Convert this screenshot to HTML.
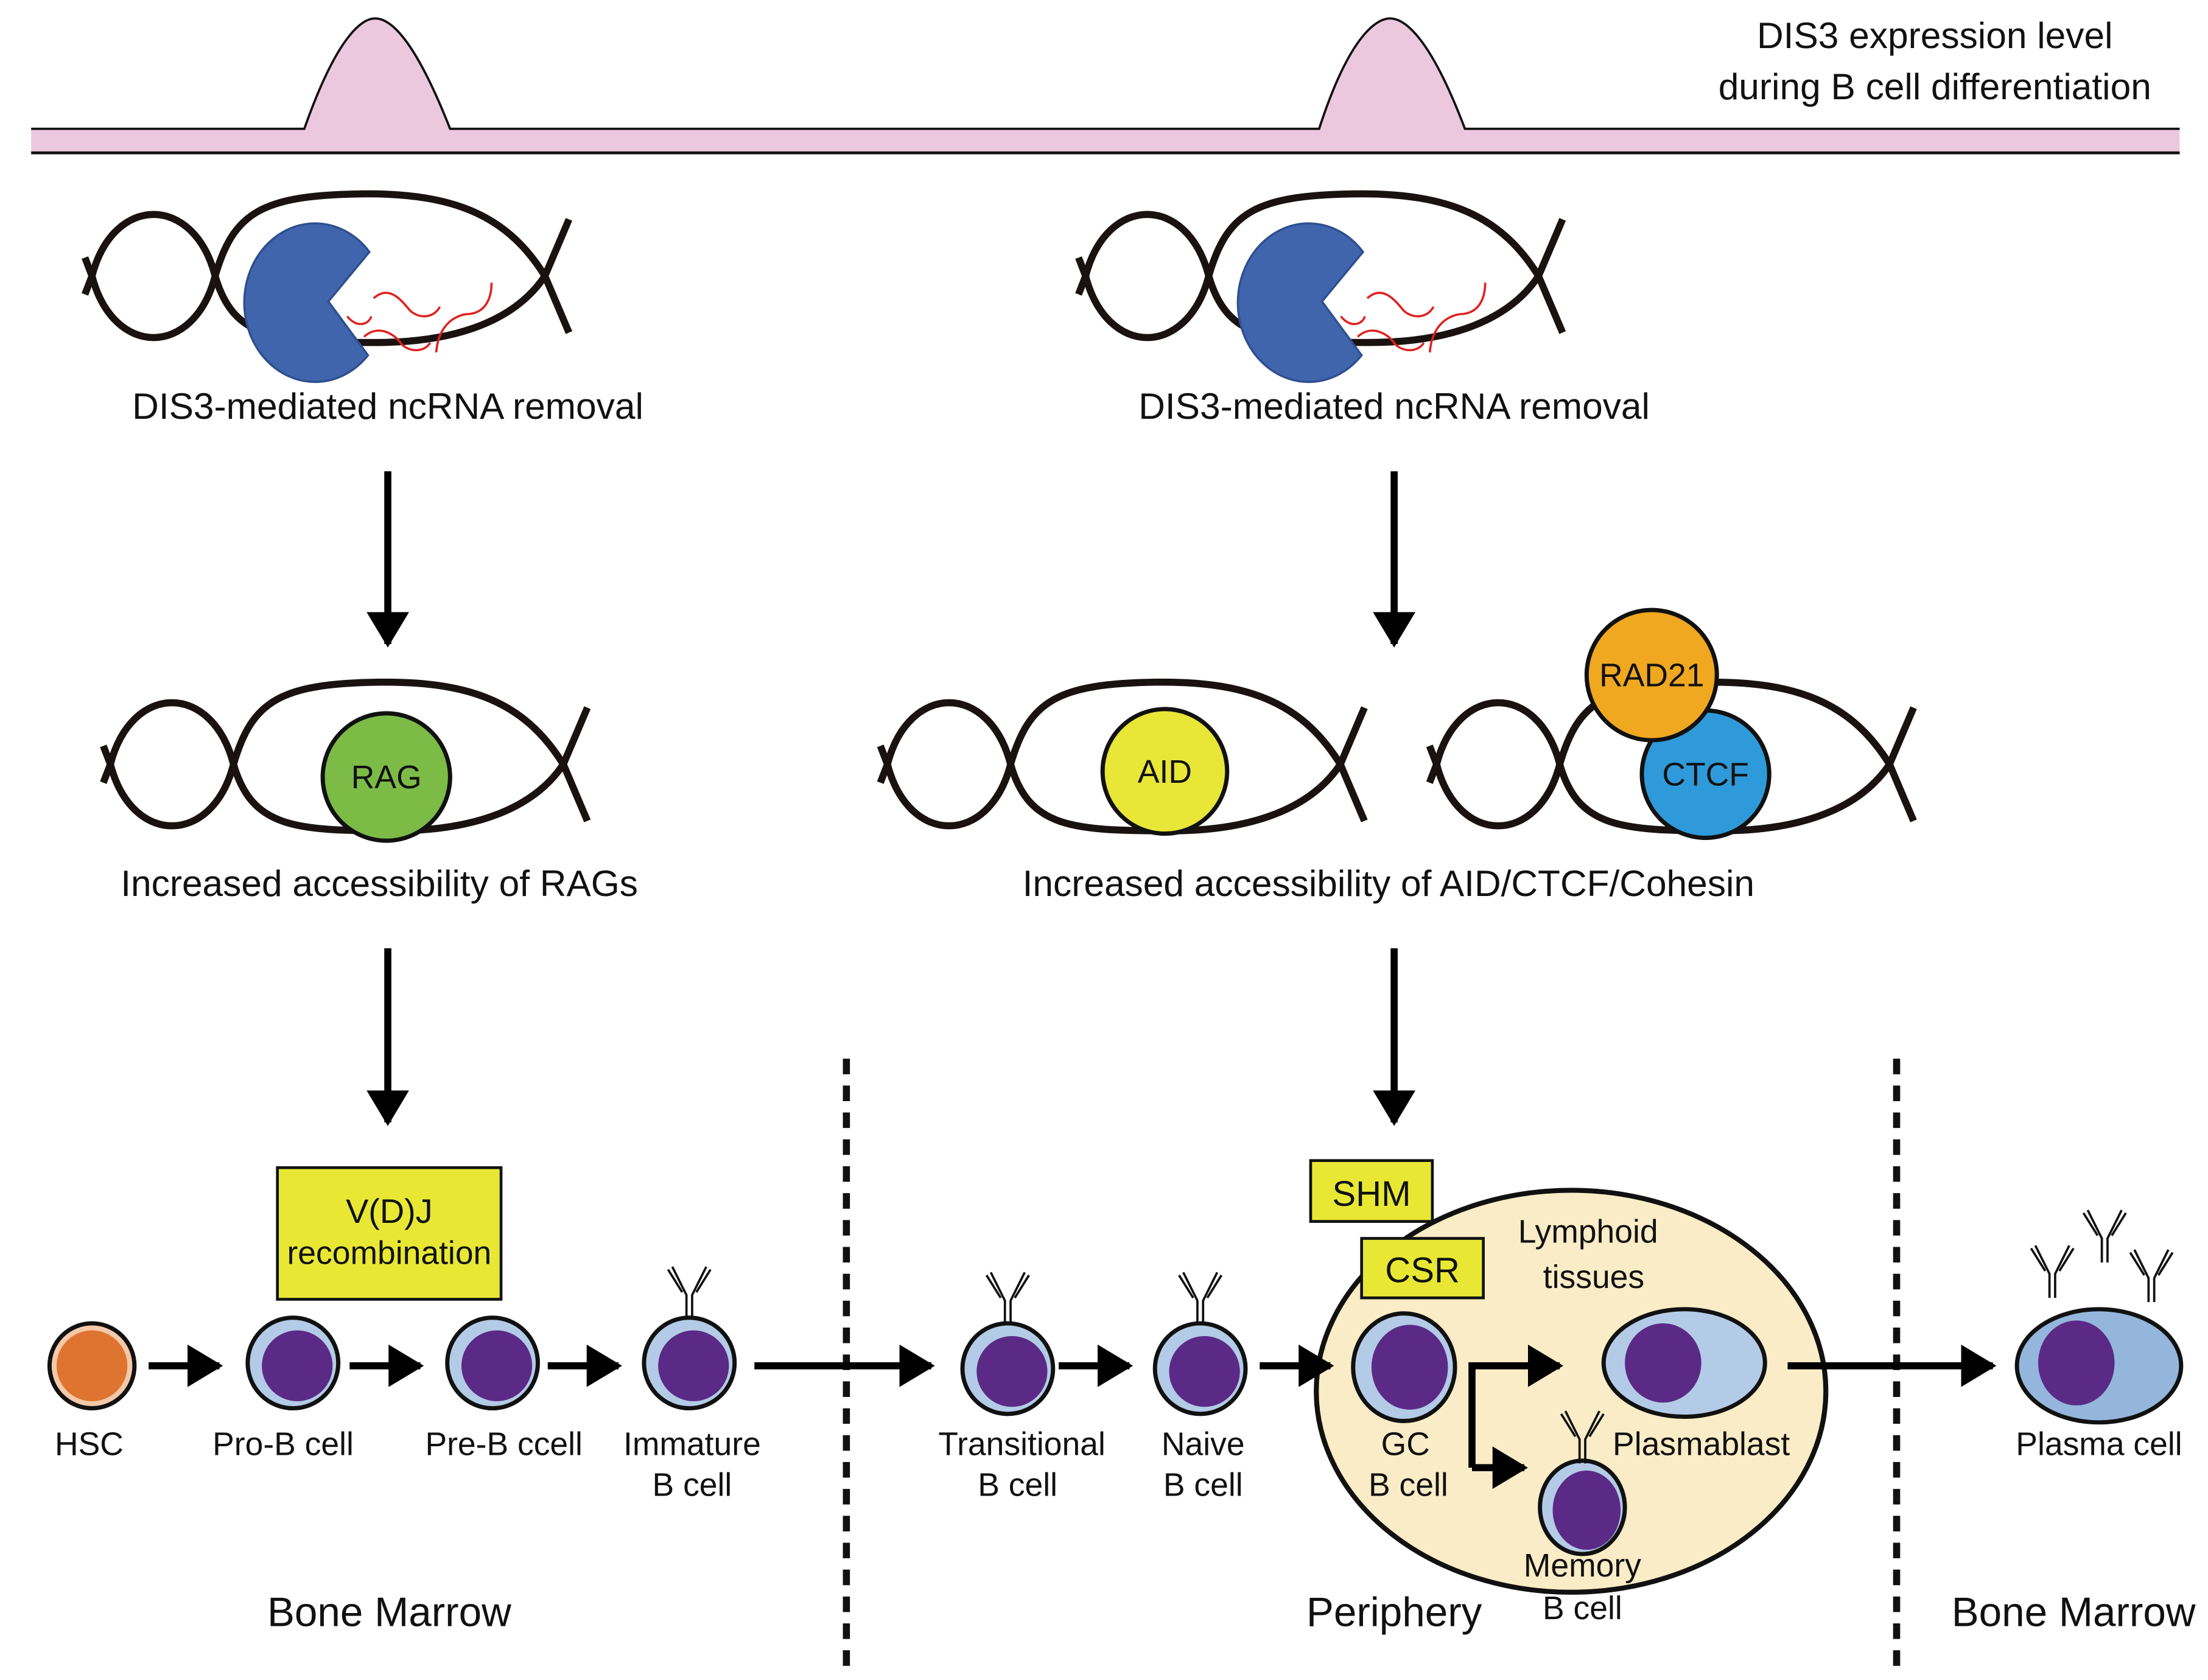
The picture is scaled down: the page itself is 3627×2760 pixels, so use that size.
<!DOCTYPE html>
<html><head><meta charset="utf-8"><style>
html,body{margin:0;padding:0;background:#fff}
svg{display:block}
text{font-family:"Liberation Sans",sans-serif;fill:#111}
</style></head><body>
<svg width="3627" height="2760" viewBox="0 0 1560 1187" preserveAspectRatio="none" xmlns="http://www.w3.org/2000/svg">
<defs>
<marker id="ah" markerWidth="6" markerHeight="6" refX="4.5" refY="3" orient="auto" markerUnits="strokeWidth">
<path d="M0,0 L5,3 L0,6 z" fill="#000"/></marker>
<g id="dna" fill="none" stroke="#1a1210" stroke-width="5">
<path d="M-5,-13 L0,0 C15,58 72,58 87,0 C100,-45 120,-57 190,-58 C260,-59 295,-40 320,0 L337,40"/>
<path d="M-5,13 L0,0 C15,-58 72,-58 87,0 C100,45 130,47 200,47 C260,47 300,30 320,0 L337,-40"/>
</g>
<g id="pac">
<path d="M31,-37 A50,56 0 1 0 30,36 L2,-2 Z" fill="#4065ad" stroke="#2f4f8f" stroke-width="1.5"/>
</g>
<g id="red" fill="none" stroke="#e02020" stroke-width="1.8" transform="scale(0.85)">
<path d="M18,10 C26,20 36,17 38,10"/>
<path d="M40,-5 C52,-16 62,-5 70,5 C77,12 90,12 95,2"/>
<path d="M32,27 C44,16 58,25 63,33 C70,40 82,40 87,32"/>
<path d="M92,40 C94,15 110,8 120,8 C135,6 138,-8 138,-18"/>
</g>
<g id="ab" fill="none" stroke="#111" stroke-width="1.6">
<path d="M-2,22 L-2,5 L-12,-15 M2,22 L2,5 L12,-15 M-5,3 L-15,-13 M5,3 L15,-13"/>
</g>
</defs>

<path d="M22,91 L215,91 C240,20 258,13 265,13 C275,13 292,25 318,91 L932,91 C955,20 975,13 982,13 C992,13 1010,25 1035,91 L1540,91 L1540,108 L22,108 Z" fill="#ecc8df"/>
<path d="M22,91 L215,91 C240,20 258,13 265,13 C275,13 292,25 318,91 L932,91 C955,20 975,13 982,13 C992,13 1010,25 1035,91 L1540,91" fill="none" stroke="#111" stroke-width="1.6"/>
<line x1="22" y1="108" x2="1540" y2="108" stroke="#111" stroke-width="2"/>
<text x="1367" y="34" font-size="26" text-anchor="middle">DIS3 expression level</text>
<text x="1367" y="70" font-size="26" text-anchor="middle">during B cell differentiation</text>

<use href="#dna" x="65" y="195"/>
<use href="#pac" x="230" y="215"/>
<use href="#red" x="230" y="215"/>
<use href="#dna" x="767" y="195"/>
<use href="#pac" x="932" y="215"/>
<use href="#red" x="932" y="215"/>
<text x="274" y="296" font-size="26" text-anchor="middle">DIS3-mediated ncRNA removal</text>
<text x="985" y="296" font-size="26" text-anchor="middle">DIS3-mediated ncRNA removal</text>

<g stroke="#000" stroke-width="5" marker-end="url(#ah)">
<line x1="274" y1="333" x2="274" y2="455"/>
<line x1="274" y1="670" x2="274" y2="793"/>
<line x1="985" y1="333" x2="985" y2="455"/>
<line x1="985" y1="670" x2="985" y2="793"/>
</g>

<use href="#dna" x="78" y="540"/>
<circle cx="273" cy="549" r="45" fill="#7dbb47" stroke="#111" stroke-width="3"/>
<text x="273" y="557" font-size="23" text-anchor="middle">RAG</text>
<use href="#dna" x="627" y="540"/>
<circle cx="823" cy="545" r="44" fill="#e8e637" stroke="#111" stroke-width="3"/>
<text x="823" y="553" font-size="23" text-anchor="middle">AID</text>
<use href="#dna" x="1015" y="540"/>
<circle cx="1205" cy="547" r="45" fill="#2f9ad9" stroke="#111" stroke-width="3"/>
<circle cx="1167" cy="477" r="46" fill="#f0a820" stroke="#111" stroke-width="3"/>
<text x="1167" y="485" font-size="23" text-anchor="middle">RAD21</text>
<text x="1205" y="555" font-size="23" text-anchor="middle">CTCF</text>
<text x="268" y="633" font-size="26" text-anchor="middle">Increased accessibility of RAGs</text>
<text x="981" y="633" font-size="26" text-anchor="middle">Increased accessibility of AID/CTCF/Cohesin</text>

<line x1="598" y1="748" x2="598" y2="1182" stroke="#111" stroke-width="5" stroke-dasharray="11,8"/>
<line x1="1340" y1="748" x2="1340" y2="1178" stroke="#111" stroke-width="5" stroke-dasharray="11,8"/>

<ellipse cx="1110" cy="983" rx="180" ry="142" fill="#f9ecc6" stroke="#111" stroke-width="3.5"/>
<text x="1122" y="878" font-size="23" text-anchor="middle">Lymphoid</text>
<text x="1126" y="910" font-size="23" text-anchor="middle">tissues</text>

<rect x="196" y="825" width="158" height="93" fill="#e8e834" stroke="#111" stroke-width="2"/>
<text x="275" y="864" font-size="24" text-anchor="middle">V(D)J</text>
<text x="275" y="893" font-size="23" text-anchor="middle">recombination</text>
<rect x="926" y="820" width="86" height="43" fill="#e8e834" stroke="#111" stroke-width="2"/>
<text x="969" y="852" font-size="25" text-anchor="middle">SHM</text>
<rect x="962" y="875" width="86" height="42" fill="#e8e834" stroke="#111" stroke-width="2"/>
<text x="1005" y="906" font-size="25" text-anchor="middle">CSR</text>

<g stroke="#000" stroke-width="5" fill="none" marker-end="url(#ah)">
<line x1="105" y1="965" x2="155" y2="965"/>
<line x1="247" y1="965" x2="297" y2="965"/>
<line x1="387" y1="965" x2="437" y2="965"/>
<line x1="533" y1="965" x2="658" y2="965"/>
<line x1="748" y1="965" x2="798" y2="965"/>
<line x1="890" y1="965" x2="940" y2="965"/>
<line x1="1263" y1="965" x2="1408" y2="965"/>
<path d="M1040,1037 L1040,965 L1102,965"/>
<path d="M1040,1037 L1077,1037"/>
</g>

<circle cx="65" cy="965" r="30" fill="#f4c8a8" stroke="#111" stroke-width="3"/>
<circle cx="65" cy="965" r="25" fill="#de7430"/>
<g stroke="#111" stroke-width="3">
<circle cx="207" cy="963" r="32" fill="#b3cbe6"/>
<circle cx="348" cy="963" r="32" fill="#b3cbe6"/>
<circle cx="487" cy="963" r="32" fill="#b3cbe6"/>
<circle cx="712" cy="967" r="32" fill="#b3cbe6"/>
<circle cx="848" cy="967" r="32" fill="#b3cbe6"/>
<ellipse cx="992" cy="966" rx="36" ry="38" fill="#b3cbe6"/>
<ellipse cx="1118" cy="1065" rx="30" ry="33" fill="#b3cbe6"/>
<ellipse cx="1190" cy="963" rx="57" ry="38" fill="#b3cbe6"/>
<ellipse cx="1483" cy="965" rx="58" ry="40" fill="#94b6dc"/>
</g>
<g fill="#5b2a86">
<circle cx="210" cy="965" r="25"/>
<circle cx="351" cy="965" r="25"/>
<circle cx="490" cy="965" r="25"/>
<circle cx="715" cy="969" r="25"/>
<circle cx="851" cy="969" r="25"/>
<ellipse cx="996" cy="966" rx="27" ry="30"/>
<ellipse cx="1121" cy="1067" rx="24" ry="28"/>
<ellipse cx="1175" cy="963" rx="27" ry="28"/>
<ellipse cx="1467" cy="963" rx="27" ry="30"/>
</g>

<use href="#ab" x="487" y="910"/>
<use href="#ab" x="712" y="914"/>
<use href="#ab" x="848" y="914"/>
<use href="#ab" x="1118" y="1012"/>
<use href="#ab" x="1450" y="895"/>
<use href="#ab" x="1487" y="870"/>
<use href="#ab" x="1520" y="898"/>

<g font-size="23" text-anchor="middle">
<text x="63" y="1028">HSC</text>
<text x="200" y="1028">Pro-B cell</text>
<text x="356" y="1028">Pre-B ccell</text>
<text x="489" y="1028">Immature</text>
<text x="489" y="1057">B cell</text>
<text x="722" y="1028">Transitional</text>
<text x="719" y="1057">B cell</text>
<text x="850" y="1028">Naive</text>
<text x="850" y="1057">B cell</text>
<text x="993" y="1028">GC</text>
<text x="995" y="1057">B cell</text>
<text x="1202" y="1028">Plasmablast</text>
<text x="1118" y="1114">Memory</text>
<text x="1118" y="1144">B cell</text>
<text x="1483" y="1028">Plasma cell</text>
</g>
<g font-size="29" text-anchor="middle">
<text x="275" y="1149">Bone Marrow</text>
<text x="985" y="1149">Periphery</text>
<text x="1465" y="1149">Bone Marrow</text>
</g>
</svg>
</body></html>
